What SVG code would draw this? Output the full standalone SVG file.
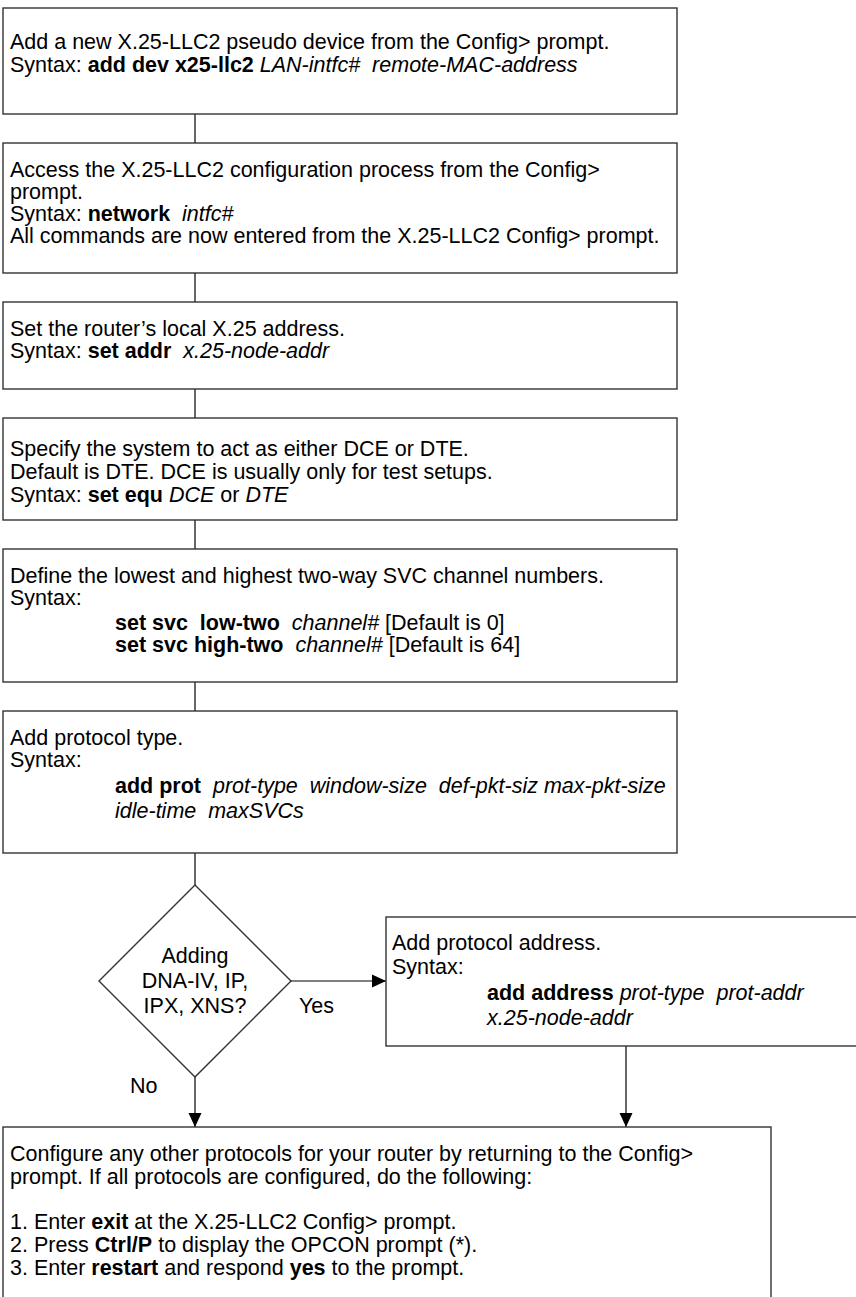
<svg xmlns="http://www.w3.org/2000/svg" width="856" height="1297" viewBox="0 0 856 1297">
  <style>
    .box { fill: #ffffff; stroke: #333333; stroke-width: 1.4; }
    .wire { fill: none; stroke: #000000; stroke-width: 1.2; }
    text { font-family: "Liberation Sans", Arial, sans-serif; font-size: 21.5px; fill: #000000; white-space: pre; }
    .b { font-weight: bold; }
    .i { font-style: italic; }
    .mid { text-anchor: middle; }
  </style>
  <defs>
    <marker id="arrow" viewBox="0 0 14 14" refX="14" refY="7" markerWidth="14" markerHeight="14" markerUnits="userSpaceOnUse" orient="auto">
      <path d="M0,0.5 L14,7 L0,13.5 Z" fill="#000000"/>
    </marker>
  </defs>

  <rect width="856" height="1297" fill="#ffffff"/>

  <!-- connectors -->
  <g id="connectors">
    <line class="wire" x1="195" y1="114" x2="195" y2="143"/>
    <line class="wire" x1="195" y1="273" x2="195" y2="302"/>
    <line class="wire" x1="195" y1="389" x2="195" y2="418"/>
    <line class="wire" x1="195" y1="520" x2="195" y2="549"/>
    <line class="wire" x1="195" y1="682" x2="195" y2="711"/>
    <line class="wire" x1="195" y1="853" x2="195" y2="885"/>
    <line class="wire" x1="291" y1="981" x2="386" y2="981" marker-end="url(#arrow)"/>
    <line class="wire" x1="195" y1="1077" x2="195" y2="1127" marker-end="url(#arrow)"/>
    <line class="wire" x1="626" y1="1046" x2="626" y2="1127" marker-end="url(#arrow)"/>
    <text x="299" y="1013">Yes</text>
    <text x="130" y="1093">No</text>
  </g>

  <!-- step 1: pseudo device -->
  <g id="add-device">
    <rect class="box" x="3" y="8" width="674" height="106"/>
    <text x="10" y="49">Add a new X.25-LLC2 pseudo device from the Config&gt; prompt.</text>
    <text x="10" y="72">Syntax: <tspan class="b">add dev x25-llc2</tspan> <tspan class="i">LAN-intfc#  remote-MAC-address</tspan></text>
  </g>

  <!-- step 2: enter network process -->
  <g id="network-process">
    <rect class="box" x="3" y="143" width="674" height="130"/>
    <text x="10" y="177">Access the X.25-LLC2 configuration process from the Config&gt;</text>
    <text x="10" y="199">prompt.</text>
    <text x="10" y="221">Syntax: <tspan class="b">network</tspan>  <tspan class="i">intfc#</tspan></text>
    <text x="10" y="243">All commands are now entered from the X.25-LLC2 Config&gt; prompt.</text>
  </g>

  <!-- step 3: local address -->
  <g id="set-address">
    <rect class="box" x="3" y="302" width="674" height="87"/>
    <text x="10" y="336">Set the router’s local X.25 address.</text>
    <text x="10" y="358">Syntax: <tspan class="b">set addr</tspan>  <tspan class="i">x.25-node-addr</tspan></text>
  </g>

  <!-- step 4: DCE / DTE -->
  <g id="set-equipment">
    <rect class="box" x="3" y="418" width="674" height="102"/>
    <text x="10" y="456">Specify the system to act as either DCE or DTE.</text>
    <text x="10" y="479">Default is DTE. DCE is usually only for test setups.</text>
    <text x="10" y="502">Syntax: <tspan class="b">set equ</tspan> <tspan class="i">DCE</tspan> or <tspan class="i">DTE</tspan></text>
  </g>

  <!-- step 5: SVC channel range -->
  <g id="set-svc">
    <rect class="box" x="3" y="549" width="674" height="133"/>
    <text x="10" y="583">Define the lowest and highest two-way SVC channel numbers.</text>
    <text x="10" y="605">Syntax:</text>
    <text x="115" y="630"><tspan class="b">set svc  low-two</tspan>  <tspan class="i">channel#</tspan> [Default is 0]</text>
    <text x="115" y="652"><tspan class="b">set svc high-two</tspan>  <tspan class="i">channel#</tspan> [Default is 64]</text>
  </g>

  <!-- step 6: protocol type -->
  <g id="add-protocol">
    <rect class="box" x="3" y="711" width="674" height="142"/>
    <text x="10" y="745">Add protocol type.</text>
    <text x="10" y="767">Syntax:</text>
    <text x="115" y="793"><tspan class="b">add prot</tspan>  <tspan class="i">prot-type  window-size  def-pkt-siz max-pkt-size</tspan></text>
    <text x="115" y="818" class="i">idle-time  maxSVCs</text>
  </g>

  <!-- decision -->
  <g id="decision">
    <polygon class="box" points="195,885 291,981 195,1077 99,981"/>
    <text class="mid" x="195" y="963">Adding</text>
    <text class="mid" x="195" y="988">DNA-IV, IP,</text>
    <text class="mid" x="195" y="1013">IPX, XNS?</text>
  </g>

  <!-- protocol address -->
  <g id="add-address">
    <rect class="box" x="386" y="917" width="480" height="129"/>
    <text x="392" y="950">Add protocol address.</text>
    <text x="392" y="974">Syntax:</text>
    <text x="487" y="1000"><tspan class="b">add address</tspan> <tspan class="i">prot-type  prot-addr</tspan></text>
    <text x="487" y="1025" class="i">x.25-node-addr</text>
  </g>

  <!-- finish -->
  <g id="finish">
    <rect class="box" x="3" y="1127" width="768" height="190"/>
    <text x="10" y="1161">Configure any other protocols for your router by returning to the Config&gt;</text>
    <text x="10" y="1184">prompt. If all protocols are configured, do the following:</text>
    <text x="10" y="1229">1. Enter <tspan class="b">exit</tspan> at the X.25-LLC2 Config&gt; prompt.</text>
    <text x="10" y="1252">2. Press <tspan class="b">Ctrl/P</tspan> to display the OPCON prompt (*).</text>
    <text x="10" y="1275">3. Enter <tspan class="b">restart</tspan> and respond <tspan class="b">yes</tspan> to the prompt.</text>
  </g>
</svg>
